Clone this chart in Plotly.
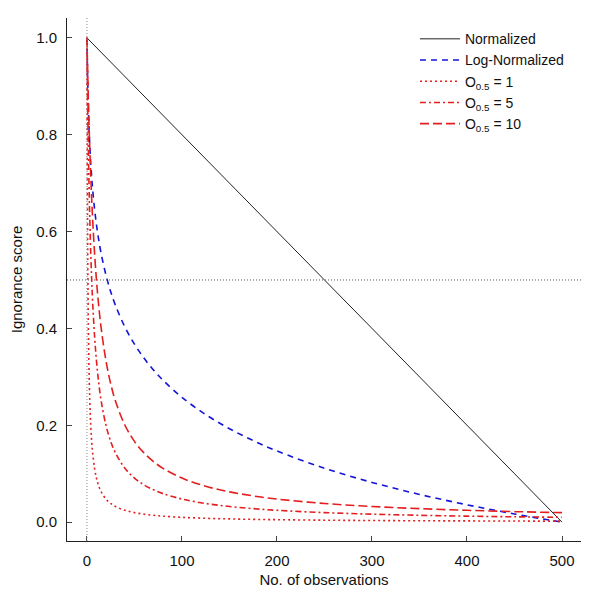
import plotly.graph_objects as go

obs = [0, 1, 2, 3, 4, 5, 6, 8, 10, 12, 15, 20, 25, 30, 40, 50, 60, 70, 80, 100,
       125, 150, 175, 200, 250, 300, 350, 400, 450, 500]
normalized_x = [0, 500]
normalized_y = [1.0, 0.0]
log_normalized = [1.0, 0.8885, 0.8233, 0.7770, 0.7411, 0.7118, 0.6870, 0.6466, 0.6143, 0.5874,
                  0.5540, 0.5103, 0.4759, 0.4476, 0.4026, 0.3675, 0.3387, 0.3143, 0.2931, 0.2576,
                  0.2220, 0.1929, 0.1683, 0.1469, 0.1112, 0.0820, 0.0572, 0.0358, 0.0169, 0.0]
o_1 = [1.0, 0.5, 0.3333, 0.25, 0.2, 0.1667, 0.1429, 0.1111, 0.0909, 0.0769,
       0.0625, 0.0476, 0.0385, 0.0323, 0.0244, 0.0196, 0.0164, 0.0141, 0.0123, 0.0099,
       0.0079, 0.0066, 0.0057, 0.0050, 0.0040, 0.0033, 0.0028, 0.0025, 0.0022, 0.0020]
o_5 = [1.0, 0.8333, 0.7143, 0.625, 0.5556, 0.5, 0.4545, 0.3846, 0.3333, 0.2941,
       0.25, 0.2, 0.1667, 0.1429, 0.1111, 0.0909, 0.0769, 0.0667, 0.0588, 0.0476,
       0.0385, 0.0323, 0.0278, 0.0244, 0.0196, 0.0164, 0.0141, 0.0123, 0.0110, 0.0099]
o_10 = [1.0, 0.9091, 0.8333, 0.7692, 0.7143, 0.6667, 0.625, 0.5556, 0.5, 0.4545,
        0.4, 0.3333, 0.2857, 0.25, 0.2, 0.1667, 0.1429, 0.125, 0.1111, 0.0909,
        0.0741, 0.0625, 0.0541, 0.0476, 0.0385, 0.0323, 0.0278, 0.0244, 0.0217, 0.0196]

x_ticks = [0, 100, 200, 300, 400, 500]
y_ticks = [0.0, 0.2, 0.4, 0.6, 0.8, 1.0]

RED = "#e41e1e"
BLUE = "#1414d8"

fig = go.Figure()
fig.add_trace(go.Scatter(x=normalized_x, y=normalized_y, mode="lines", name="Normalized",
                         line=dict(color="#222222", width=1)))
fig.add_trace(go.Scatter(x=obs, y=log_normalized, mode="lines", name="Log-Normalized",
                         line=dict(color=BLUE, width=1.6, dash="6px,5px", shape="spline")))
fig.add_trace(go.Scatter(x=obs, y=o_1, mode="lines", name="O<sub>0.5</sub> = 1",
                         line=dict(color=RED, width=1.6, dash="2px,3px", shape="spline")))
fig.add_trace(go.Scatter(x=obs, y=o_5, mode="lines", name="O<sub>0.5</sub> = 5",
                         line=dict(color=RED, width=1.6, dash="6px,3px,2px,3px", shape="spline")))
fig.add_trace(go.Scatter(x=obs, y=o_10, mode="lines", name="O<sub>0.5</sub> = 10",
                         line=dict(color=RED, width=1.6, dash="9px,4px", shape="spline")))

fig.add_hline(y=0.5, line=dict(color="#555555", width=1, dash="1px,2px"))
fig.add_vline(x=0, line=dict(color="#888888", width=1, dash="1px,2px"))

fig.update_layout(
    width=600, height=600,
    paper_bgcolor="white", plot_bgcolor="white",
    margin=dict(l=59, r=27, t=10, b=67, autoexpand=False),
    font=dict(family="Liberation Sans, Arial, sans-serif", size=15, color="#111111"),
    legend=dict(x=0.677, y=0.99, xanchor="left", yanchor="top", bgcolor="rgba(0,0,0,0)",
                font=dict(size=14), tracegroupgap=0, itemwidth=40),
    xaxis=dict(range=[-21, 520], tickvals=x_ticks, ticks="inside", ticklen=5,
               ticklabelstandoff=6, automargin=False,
               showgrid=False, zeroline=False, showline=True, linecolor="#222222",
               linewidth=1, title=dict(text="No. of observations", font=dict(size=15), standoff=6)),
    yaxis=dict(range=[-0.039, 1.041], tickvals=y_ticks, tickformat=".1f", ticks="inside",
               ticklen=5, ticklabelstandoff=6, automargin=False,
               showgrid=False, zeroline=False, showline=True, linecolor="#222222",
               linewidth=1, title=dict(text="Ignorance score", font=dict(size=15), standoff=10)),
)

fig.write_html("out.html")
